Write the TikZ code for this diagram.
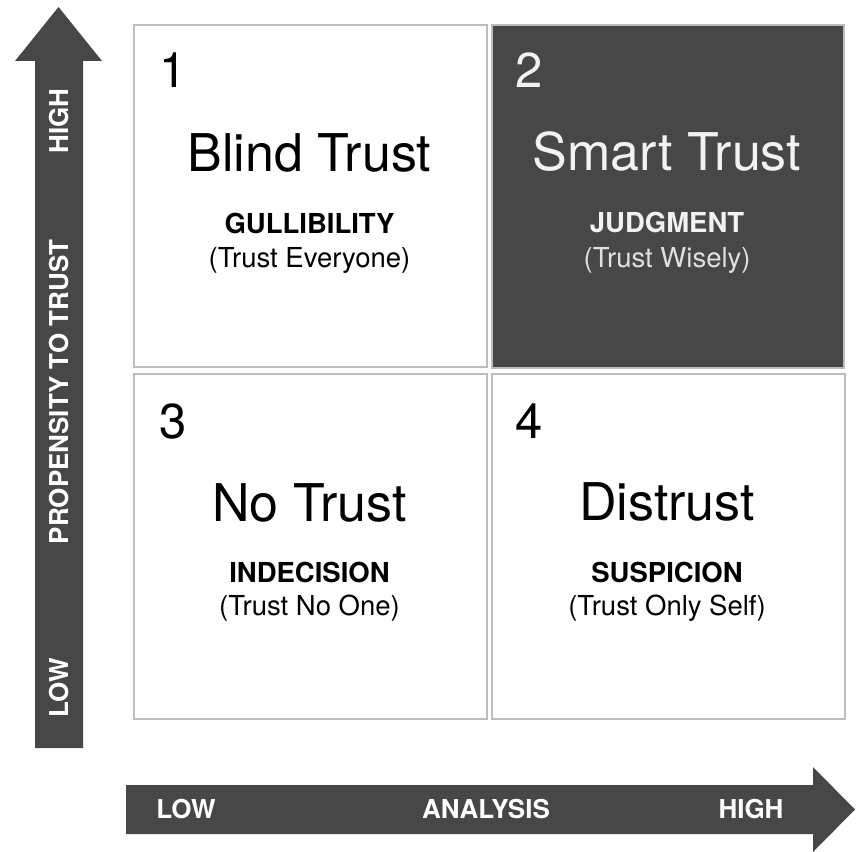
\documentclass[tikz,border=0pt]{standalone}
\usepackage{fontspec}
\setmainfont{TeX Gyre Heros}
\definecolor{darkfill}{HTML}{474747}
\definecolor{boxline}{HTML}{BDBDBD}
\definecolor{paletext}{HTML}{F2F2F2}
\definecolor{subpale}{HTML}{E0E0E0}
\begin{document}
\begin{tikzpicture}[x=1pt,y=-1pt,
  quad/.style={draw=boxline,line width=1.6pt},
  numtxt/.style={anchor=base west,inner sep=0pt,font=\fontsize{49}{49}\selectfont},
  titletxt/.style={anchor=base,inner sep=0pt,font=\fontsize{52}{52}\selectfont},
  labtxt/.style={anchor=base,inner sep=0pt,font=\fontsize{27.5}{27.5}\selectfont\bfseries},
  subtxt/.style={anchor=base,inner sep=0pt,font=\fontsize{27.5}{27.5}\selectfont},
  axtxt/.style={inner sep=0pt,text=white,font=\fontsize{26}{26}\selectfont\bfseries},
  arrowshape/.style={fill=darkfill,draw=none}]
\useasboundingbox (0,0) rectangle (856,851);
\fill[white] (0,0) rectangle (856,851);

% axes
\path[arrowshape] (35,748) -- (35,61) -- (15,61) -- (58.5,7) -- (102,61) -- (83,61) -- (83,748) -- cycle;
\path[arrowshape] (126,785) -- (813,785) -- (813,767) -- (855,809.5) -- (813,852) -- (813,834) -- (126,834) -- cycle;

\node[axtxt,rotate=90] (yhigh) at (59,121) {HIGH};
\node[axtxt,rotate=90] (ymid) at (59,392) {PROPENSITY TO TRUST};
\node[axtxt,rotate=90] (ylow) at (59,688) {LOW};
\node[axtxt] (xlow) at (186,809) {LOW};
\node[axtxt] (xmid) at (486,809) {ANALYSIS};
\node[axtxt] (xhigh) at (751,809) {HIGH};

% quadrants
\node[quad,minimum width=353pt,minimum height=342pt,inner sep=0pt,anchor=north west] (box1) at (133,24) {};
\node[quad,fill=darkfill,minimum width=352pt,minimum height=343pt,inner sep=0pt,anchor=north west] (box2) at (491,24) {};
\node[quad,minimum width=353pt,minimum height=345pt,inner sep=0pt,anchor=north west] (box3) at (133,373) {};
\node[quad,minimum width=353pt,minimum height=345pt,inner sep=0pt,anchor=north west] (box4) at (491,373) {};

% box 1
\node[numtxt] (n1) at (159,88) {1};
\node[titletxt] (t1) at (309.5,171) {Blind Trust};
\node[labtxt] (l1) at (309.5,233) {GULLIBILITY};
\node[subtxt] (s1) at (309.5,267) {(Trust Everyone)};

% box 2
\node[numtxt,text=paletext] (n2) at (515,88) {2};
\node[titletxt,text=paletext] (t2) at (667,170) {Smart Trust};
\node[labtxt,text=paletext] (l2) at (667,232) {JUDGMENT};
\node[subtxt,text=subpale] (s2) at (667,267) {(Trust Wisely)};

% box 3
\node[numtxt] (n3) at (159,438) {3};
\node[titletxt] (t3) at (309.5,521) {No Trust};
\node[labtxt] (l3) at (309.5,582) {INDECISION};
\node[subtxt] (s3) at (309.5,615) {(Trust No One)};

% box 4
\node[numtxt] (n4) at (515,438) {4};
\node[titletxt] (t4) at (667,520) {Distrust};
\node[labtxt] (l4) at (667,582) {SUSPICION};
\node[subtxt] (s4) at (667,615) {(Trust Only Self)};
\end{tikzpicture}
\end{document}
